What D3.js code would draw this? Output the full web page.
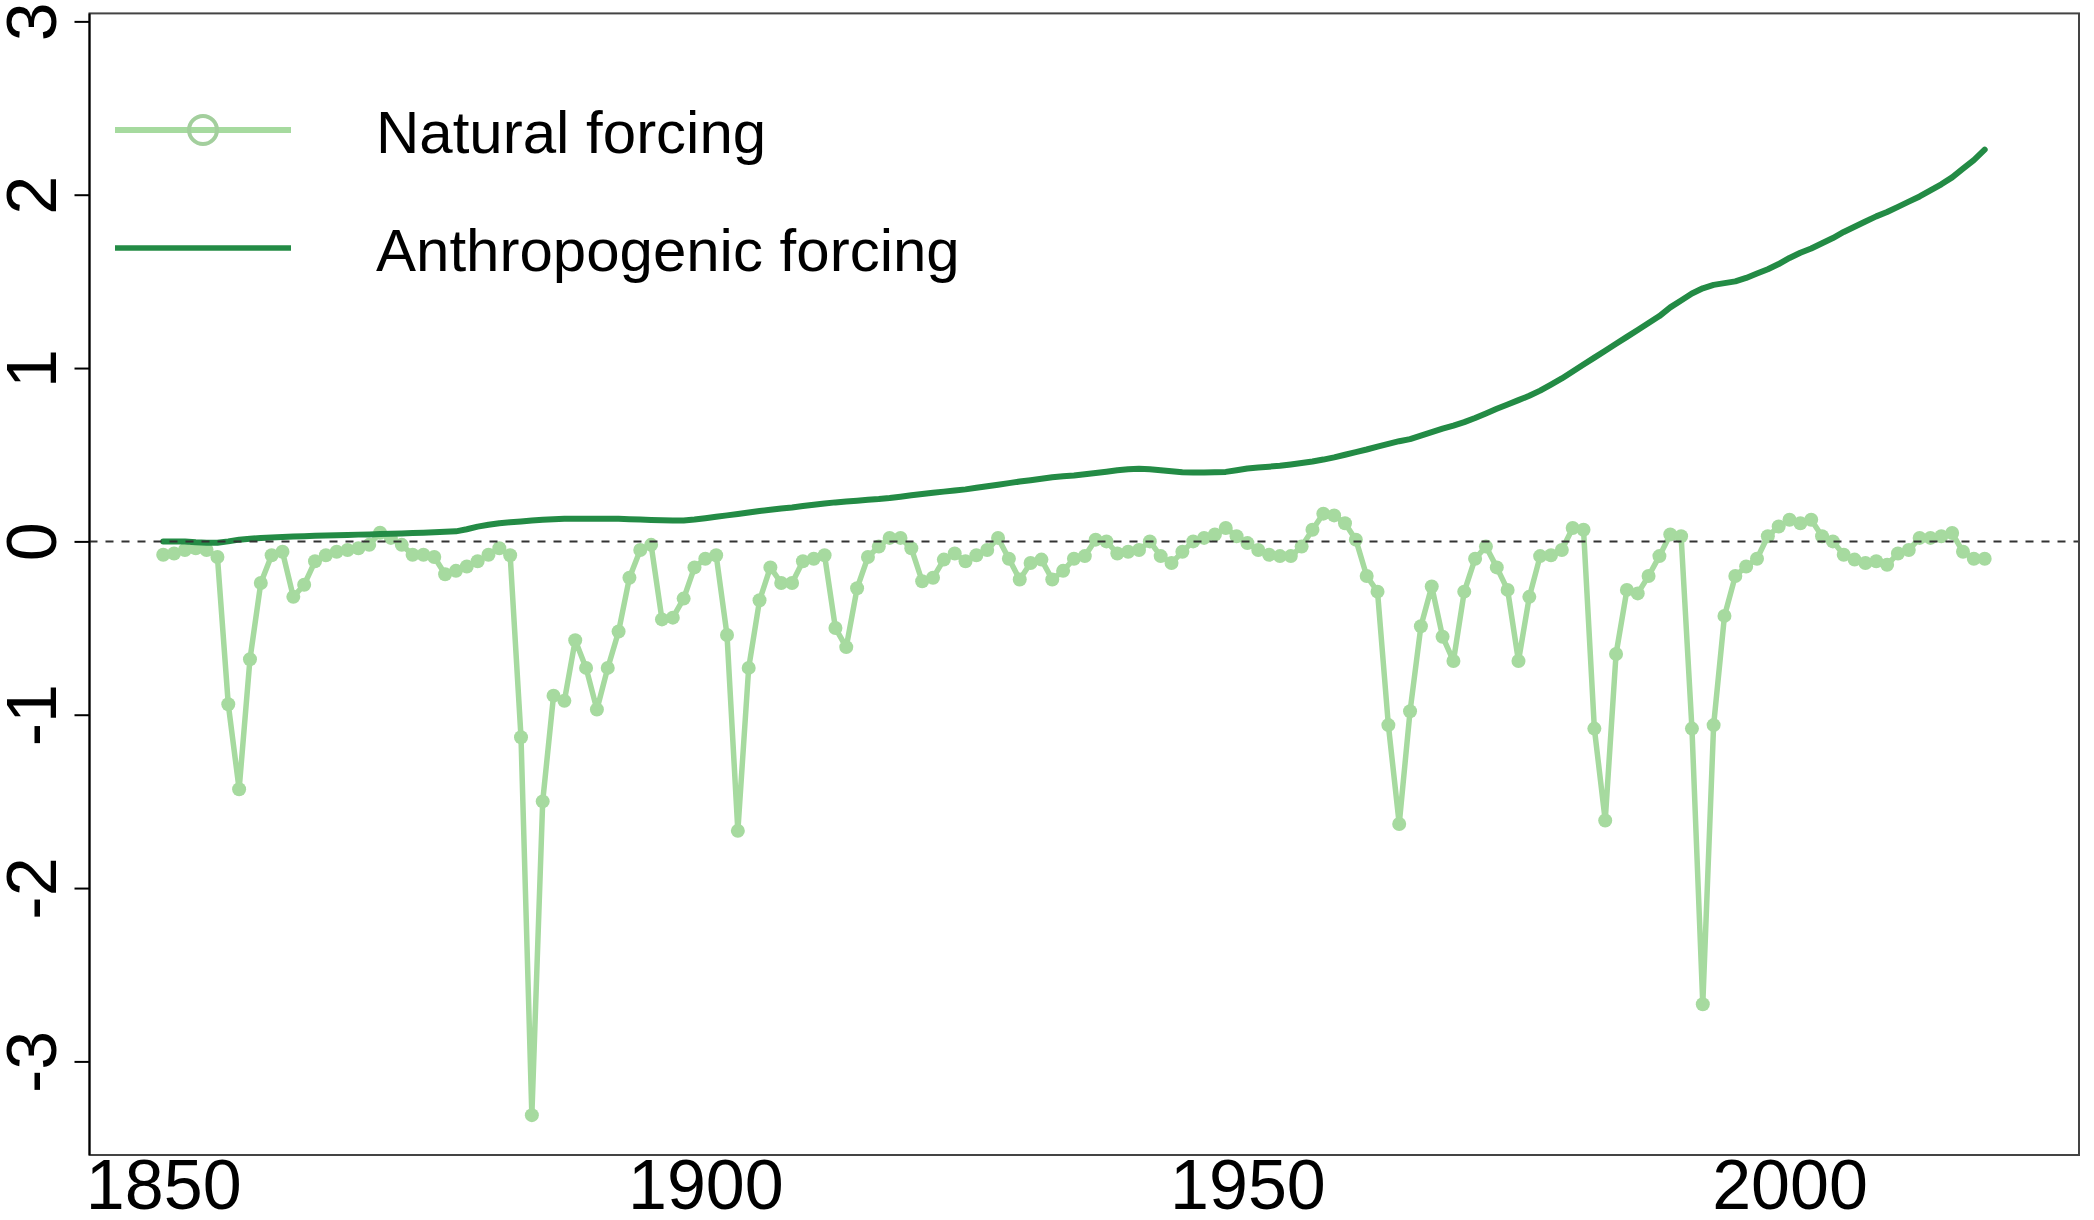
<!DOCTYPE html>
<html>
<head>
<meta charset="utf-8">
<script src="https://d3js.org/d3.v7.min.js"></script>
<style>
  html, body { margin: 0; padding: 0; background: #fff; }
  svg { display: block; font-family: "Liberation Sans", Arial, sans-serif; }
</style>
</head>
<body>
<svg id="chart"></svg>
<script>
// data (W/m2, one value per year from 1850)
const firstYear = 1850

const natural = [
  -0.077, -0.07, -0.05, -0.04, -0.05, -0.09, -0.94, -1.43, -0.68, -0.24,
  -0.08, -0.06, -0.32, -0.25, -0.115, -0.08, -0.06, -0.05, -0.04, -0.02,
  0.05, 0.02, -0.02, -0.077, -0.077, -0.09, -0.19, -0.17, -0.145, -0.115,
  -0.077, -0.04, -0.08, -1.13, -3.31, -1.50, -0.89, -0.92, -0.57, -0.73,
  -0.97, -0.73, -0.52, -0.21, -0.05, -0.02, -0.45, -0.44, -0.33, -0.15,
  -0.10, -0.08, -0.54, -1.67, -0.73, -0.34, -0.15, -0.24, -0.24, -0.115,
  -0.10, -0.08, -0.50, -0.61, -0.27, -0.09, -0.03, 0.02, 0.02, -0.04,
  -0.23, -0.21, -0.105, -0.07, -0.115, -0.08, -0.05, 0.02, -0.10, -0.22,
  -0.125, -0.105, -0.22, -0.17, -0.10, -0.085, 0.01, 0.0, -0.07, -0.06,
  -0.05, 0.0, -0.085, -0.125, -0.06, 0.0, 0.02, 0.04, 0.077, 0.03,
  -0.01, -0.05, -0.077, -0.085, -0.085, -0.03, 0.067, 0.16, 0.15, 0.105,
  0.01, -0.20, -0.29, -1.06, -1.63, -0.98, -0.49, -0.26, -0.55, -0.69,
  -0.29, -0.10, -0.03, -0.15, -0.28, -0.69, -0.32, -0.085, -0.08, -0.05,
  0.077, 0.067, -1.08, -1.61, -0.65, -0.28, -0.30, -0.20, -0.085, 0.04,
  0.03, -1.08, -2.67, -1.06, -0.43, -0.20, -0.145, -0.10, 0.03, 0.086,
  0.125, 0.105, 0.125, 0.03, 0.0, -0.077, -0.105, -0.125, -0.115, -0.135,
  -0.07, -0.05, 0.02, 0.02, 0.03, 0.048, -0.06, -0.10, -0.10
]

const anthropogenic = [
  0.00, 0.00, 0.00, -0.005, -0.008, -0.008, 0.00, 0.01, 0.015, 0.02,
  0.023, 0.026, 0.028, 0.03, 0.032, 0.034, 0.035, 0.037, 0.039, 0.04,
  0.042, 0.044, 0.046, 0.048, 0.05, 0.052, 0.055, 0.058, 0.07, 0.085,
  0.096, 0.105, 0.11, 0.115, 0.12, 0.125, 0.128, 0.13, 0.13, 0.13,
  0.13, 0.13, 0.13, 0.128, 0.126, 0.124, 0.122, 0.12, 0.12, 0.126,
  0.134, 0.142, 0.15, 0.158, 0.167, 0.175, 0.182, 0.19, 0.196, 0.204,
  0.211, 0.218, 0.225, 0.23, 0.235, 0.24, 0.244, 0.25, 0.258, 0.266,
  0.273, 0.28, 0.287, 0.294, 0.30, 0.309, 0.318, 0.327, 0.336, 0.345,
  0.353, 0.361, 0.37, 0.376, 0.38, 0.387, 0.394, 0.402, 0.41, 0.416,
  0.419, 0.416, 0.41, 0.404, 0.399, 0.397, 0.397, 0.399, 0.401, 0.41,
  0.42, 0.426, 0.431, 0.436, 0.444, 0.452, 0.461, 0.472, 0.485, 0.50,
  0.515, 0.53, 0.547, 0.563, 0.578, 0.59, 0.61, 0.63, 0.65, 0.668,
  0.688, 0.712, 0.738, 0.765, 0.79, 0.815, 0.84, 0.87, 0.905, 0.94,
  0.98, 1.02, 1.06, 1.10, 1.14, 1.18, 1.22, 1.26, 1.30, 1.35,
  1.39, 1.43, 1.46, 1.48, 1.49, 1.50, 1.52, 1.545, 1.57, 1.60,
  1.635, 1.665, 1.69, 1.72, 1.75, 1.785, 1.815, 1.845, 1.875, 1.90,
  1.93, 1.96, 1.99, 2.025, 2.06, 2.10, 2.15, 2.20, 2.26
]

const years = natural.map((d, i) => firstYear + i)
const xTicks = [1850, 1900, 1950, 2000]
const yTicks = [-3, -2, -1, 0, 1, 2, 3]
const legendLabels = ['Natural forcing', 'Anthropogenic forcing']

// layout
const width = 2094
const height = 1220
const plot = { left: 89.5, right: 2079, top: 13.4, bottom: 1155 }
const lightGreen = '#a6da9f'
const darkGreen = '#238b45'

const svg = d3.select('#chart').attr('width', width).attr('height', height)

const x = d3.scaleLinear().domain([1843.2, 2026.7]).range([plot.left, plot.right])
const y = d3.scaleLinear().domain([-3.54, 3.046]).range([plot.bottom, plot.top])

const natPts = years.map((yr, i) => ({ year: yr, value: natural[i] }))
const antPts = years.map((yr, i) => ({ year: yr, value: anthropogenic[i] }))

const line = d3.line().x(d => x(d.year)).y(d => y(d.value))

// natural forcing: line with dots
svg.append('path')
  .datum(natPts)
  .attr('d', line)
  .attr('fill', 'none')
  .attr('stroke', lightGreen)
  .attr('stroke-width', 5.5)
  .attr('stroke-linejoin', 'round')

svg.append('g').selectAll('circle').data(natPts)
  .enter().append('circle')
  .attr('cx', d => x(d.year))
  .attr('cy', d => y(d.value))
  .attr('r', 7)
  .attr('fill', lightGreen)

// anthropogenic forcing
svg.append('path')
  .datum(antPts)
  .attr('d', line)
  .attr('fill', 'none')
  .attr('stroke', darkGreen)
  .attr('stroke-width', 6)
  .attr('stroke-linejoin', 'round')
  .attr('stroke-linecap', 'round')

// zero line
svg.append('line')
  .attr('x1', plot.left).attr('x2', plot.right)
  .attr('y1', y(0)).attr('y2', y(0))
  .attr('stroke', '#333')
  .attr('stroke-width', 2)
  .attr('stroke-dasharray', '8 8')

// box
svg.append('rect')
  .attr('x', plot.left).attr('y', plot.top)
  .attr('width', plot.right - plot.left)
  .attr('height', plot.bottom - plot.top)
  .attr('fill', 'none')
  .attr('stroke', '#444')
  .attr('stroke-width', 2)

// y axis
const yAxis = svg.append('g')
  .attr('transform', 'translate(' + plot.left + ',0)')
  .call(d3.axisLeft(y).tickValues(yTicks).tickSize(15).tickFormat(d3.format('d')))
yAxis.select('.domain').remove()
yAxis.selectAll('line').attr('stroke', '#000').attr('stroke-width', 2)
yAxis.selectAll('text')
  .attr('x', null).attr('dy', null)
  .attr('text-anchor', 'middle')
  .attr('transform', 'translate(-34,0) rotate(-90)')
  .attr('font-size', 70)
  .attr('font-family', '"Liberation Sans", Arial, sans-serif')
  .attr('fill', '#000')
  .text(d => d < 0 ? '-' + Math.abs(d) : d)
svg.append('line')
  .attr('x1', plot.left).attr('x2', plot.left)
  .attr('y1', plot.top).attr('y2', plot.bottom)
  .attr('stroke', '#000').attr('stroke-width', 2)

// x axis
const xAxis = svg.append('g')
  .attr('transform', 'translate(0,' + plot.bottom + ')')
  .call(d3.axisBottom(x).tickValues(xTicks).tickSize(0).tickFormat(d3.format('d')))
xAxis.select('.domain').remove()
xAxis.selectAll('text')
  .attr('y', 54).attr('dy', null)
  .attr('font-size', 70)
  .attr('font-family', '"Liberation Sans", Arial, sans-serif')
  .attr('fill', '#000')

// legend
const legend = svg.append('g')
legend.append('line')
  .attr('x1', 115).attr('x2', 291).attr('y1', 130).attr('y2', 130)
  .attr('stroke', lightGreen).attr('stroke-width', 6)
legend.append('circle')
  .attr('cx', 203).attr('cy', 130).attr('r', 14)
  .attr('fill', 'none').attr('stroke', '#a3cf9d').attr('stroke-width', 4)
legend.append('line')
  .attr('x1', 115).attr('x2', 291).attr('y1', 248).attr('y2', 248)
  .attr('stroke', darkGreen).attr('stroke-width', 5.5)
legend.selectAll('text').data(legendLabels)
  .enter().append('text')
  .attr('x', 376)
  .attr('y', (d, i) => i === 0 ? 153 : 271)
  .attr('font-size', 60)
  .attr('fill', '#000')
  .text(d => d)
</script>
</body>
</html>
